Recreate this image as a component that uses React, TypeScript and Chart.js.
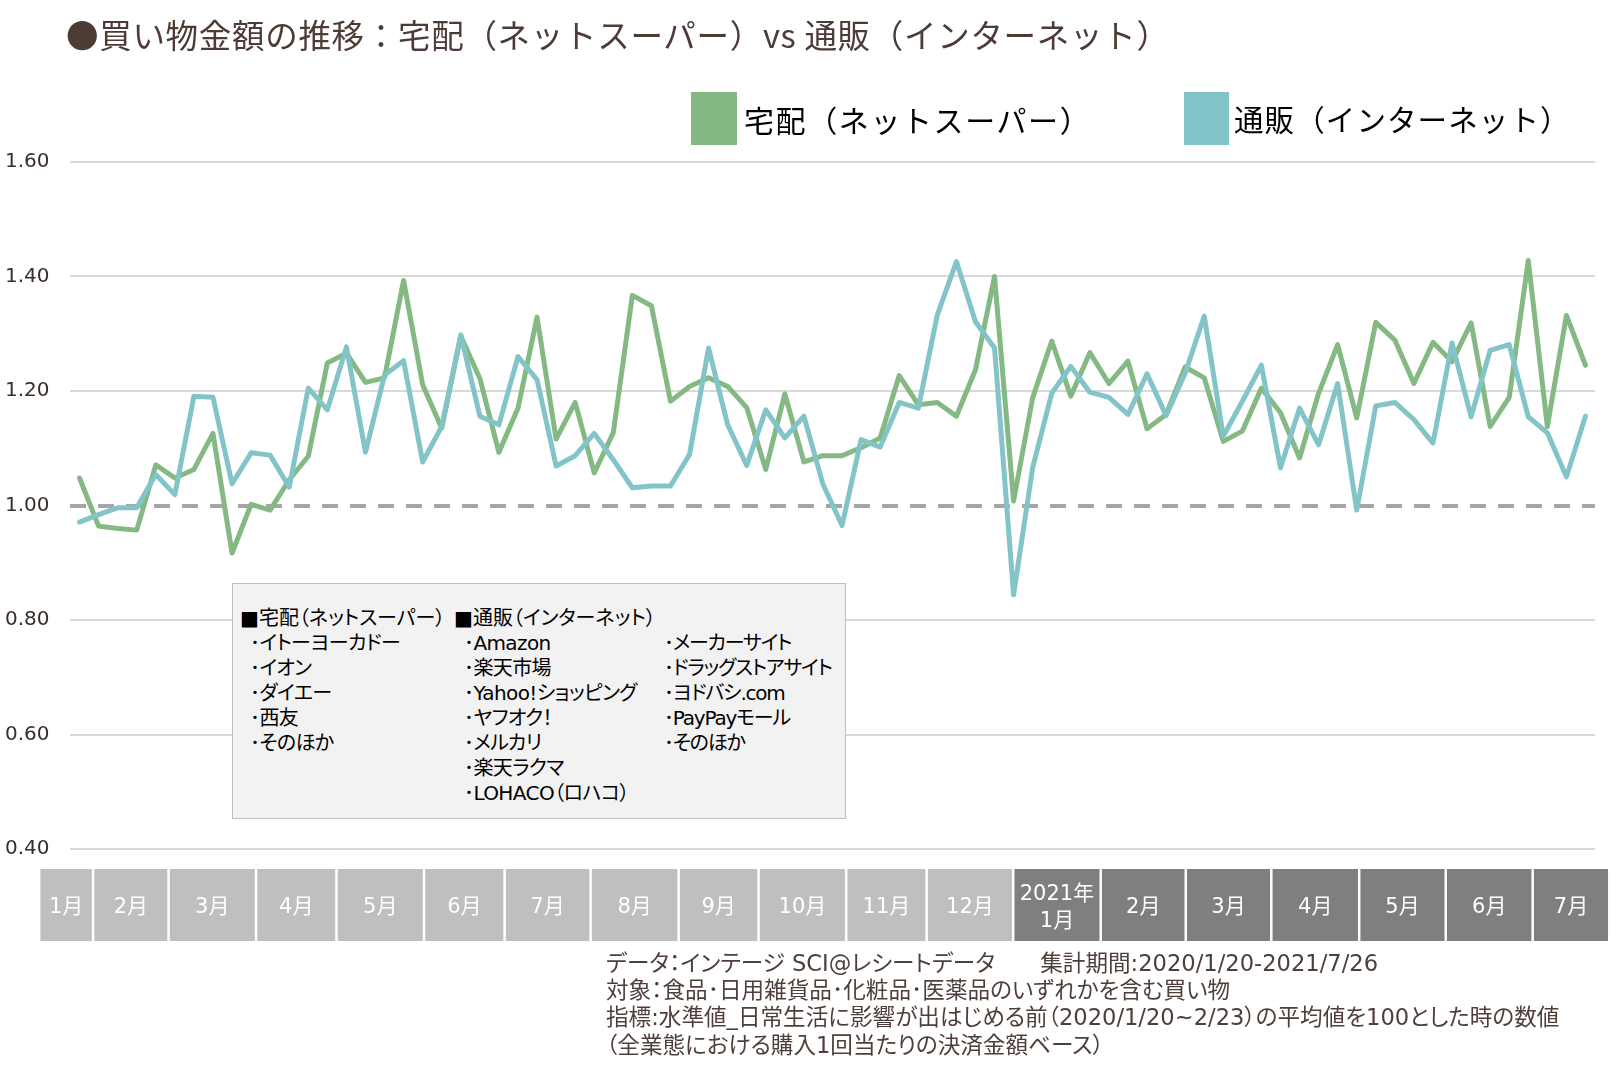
import { useEffect, useRef } from "react";
import { Chart, registerables } from "chart.js";

Chart.register(...registerables);

// Weekly categories (week starting Monday), 2020/1/20 – 2021/7/26
const weekLabels = [
  "2020/1/20", "2020/1/27", "2020/2/3", "2020/2/10", "2020/2/17", "2020/2/24",
  "2020/3/2", "2020/3/9", "2020/3/16", "2020/3/23", "2020/3/30",
  "2020/4/6", "2020/4/13", "2020/4/20", "2020/4/27",
  "2020/5/4", "2020/5/11", "2020/5/18", "2020/5/25",
  "2020/6/1", "2020/6/8", "2020/6/15", "2020/6/22", "2020/6/29",
  "2020/7/6", "2020/7/13", "2020/7/20", "2020/7/27",
  "2020/8/3", "2020/8/10", "2020/8/17", "2020/8/24", "2020/8/31",
  "2020/9/7", "2020/9/14", "2020/9/21", "2020/9/28",
  "2020/10/5", "2020/10/12", "2020/10/19", "2020/10/26",
  "2020/11/2", "2020/11/9", "2020/11/16", "2020/11/23", "2020/11/30",
  "2020/12/7", "2020/12/14", "2020/12/21", "2020/12/28",
  "2021/1/4", "2021/1/11", "2021/1/18", "2021/1/25",
  "2021/2/1", "2021/2/8", "2021/2/15", "2021/2/22",
  "2021/3/1", "2021/3/8", "2021/3/15", "2021/3/22", "2021/3/29",
  "2021/4/5", "2021/4/12", "2021/4/19", "2021/4/26",
  "2021/5/3", "2021/5/10", "2021/5/17", "2021/5/24", "2021/5/31",
  "2021/6/7", "2021/6/14", "2021/6/21", "2021/6/28",
  "2021/7/5", "2021/7/12", "2021/7/19", "2021/7/26",
];

// 宅配（ネットスーパー）
const takuhai = [
  1.048, 0.964, 0.960, 0.957, 1.071, 1.048, 1.063, 1.126, 0.917, 1.002,
  0.992, 1.045, 1.086, 1.249, 1.266, 1.215, 1.223, 1.393, 1.211, 1.135,
  1.296, 1.222, 1.093, 1.170, 1.329, 1.116, 1.180, 1.057, 1.127, 1.367,
  1.349, 1.182, 1.208, 1.223, 1.208, 1.171, 1.063, 1.195, 1.076, 1.087,
  1.087, 1.101, 1.118, 1.227, 1.176, 1.180, 1.156, 1.237, 1.400, 1.008,
  1.188, 1.287, 1.191, 1.267, 1.213, 1.252, 1.134, 1.159, 1.242, 1.223,
  1.112, 1.130, 1.205, 1.162, 1.083, 1.196, 1.281, 1.153, 1.320, 1.289,
  1.213, 1.285, 1.251, 1.319, 1.138, 1.189, 1.428, 1.138, 1.332, 1.245,
];

// 通販（インターネット）
const tsuhan = [
  0.971, 0.984, 0.996, 0.996, 1.054, 1.019, 1.191, 1.189, 1.038, 1.092,
  1.088, 1.032, 1.205, 1.167, 1.277, 1.093, 1.228, 1.253, 1.076, 1.138,
  1.298, 1.156, 1.141, 1.260, 1.220, 1.069, 1.087, 1.126, 1.080, 1.031,
  1.034, 1.034, 1.089, 1.275, 1.141, 1.070, 1.167, 1.118, 1.156, 1.037,
  0.965, 1.115, 1.102, 1.180, 1.170, 1.333, 1.426, 1.321, 1.275, 0.844,
  1.066, 1.196, 1.243, 1.198, 1.189, 1.159, 1.230, 1.157, 1.231, 1.331,
  1.121, 1.182, 1.245, 1.066, 1.170, 1.106, 1.213, 0.992, 1.174, 1.180,
  1.150, 1.109, 1.284, 1.155, 1.271, 1.281, 1.155, 1.127, 1.050, 1.156,
];

const seriesNames = ["宅配（ネットスーパー）", "通販（インターネット）"];
const seriesColors = ["#84b983", "#83c4c9"];

const yMin = 0.4;
const yMax = 1.6;
const yStep = 0.2;
const baseline = 1.0;

// Month band under the plot (edges in week-index units)
const monthLabels = [
  "1月", "2月", "3月", "4月", "5月", "6月", "7月", "8月", "9月", "10月", "11月", "12月",
  "2021年\n1月", "2月", "3月", "4月", "5月", "6月", "7月",
];
const monthEdges = [
  -2.12, 0.71, 4.67, 9.26, 13.48, 18.07, 22.3, 26.81, 31.43, 35.62, 40.22,
  44.44, 48.98, 53.57, 58.03, 62.52, 67.13, 71.67, 76.23, 80.25,
];
const monthYears = [
  2020, 2020, 2020, 2020, 2020, 2020, 2020, 2020, 2020, 2020, 2020, 2020,
  2021, 2021, 2021, 2021, 2021, 2021, 2021,
];

const titleText = "●買い物金額の推移：宅配（ネットスーパー）vs 通販（インターネット）";

const boxHeader1 = "■宅配（ネットスーパー）";
const boxHeader2 = "■通販（インターネット）";
const boxCol1 = ["イトーヨーカドー", "イオン", "ダイエー", "西友", "そのほか"];
const boxCol2 = ["Amazon", "楽天市場", "Yahoo!ショッピング", "ヤフオク！", "メルカリ", "楽天ラクマ", "LOHACO（ロハコ）"];
const boxCol3 = ["メーカーサイト", "ドラッグストアサイト", "ヨドバシ.com", "PayPayモール", "そのほか"];

const notes = [
  "データ：インテージ SCI@レシートデータ　　集計期間:2020/1/20-2021/7/26",
  "対象：食品･日用雑貨品･化粧品･医薬品のいずれかを含む買い物",
  "指標:水準値_日常生活に影響が出はじめる前（2020/1/20~2/23）の平均値を100とした時の数値",
  "（全業態における購入1回当たりの決済金額ベース）",
];

const W = 1616;
const H = 1073;

const cjk = "'Noto Sans CJK JP', sans-serif";
const mixed = "'DejaVu Sans', 'Noto Sans CJK JP', sans-serif";

export default function App() {
  const canvasRef = useRef<HTMLCanvasElement | null>(null);

  useEffect(() => {
    const prevMargin = document.body.style.margin;
    document.body.style.margin = "0";
    const canvas = canvasRef.current;
    if (!canvas) return;

    const refLine = {
      id: "refLine",
      beforeDatasetsDraw(chart: any) {
        const { ctx, chartArea, scales } = chart;
        const py = Math.round(scales.y.getPixelForValue(baseline));
        ctx.save();
        ctx.strokeStyle = "#a6a6a6";
        ctx.lineWidth = 4;
        ctx.setLineDash([16, 12]);
        ctx.beginPath();
        ctx.moveTo(chartArea.left, py);
        ctx.lineTo(chartArea.right, py);
        ctx.stroke();
        ctx.restore();
      },
    };

    const monthBand = {
      id: "monthBand",
      afterDraw(chart: any) {
        const { ctx, chartArea, scales } = chart;
        const xs = scales.x;
        const top = chartArea.bottom + 20;
        const h = 72;
        ctx.save();
        ctx.textAlign = "center";
        ctx.textBaseline = "middle";
        for (let i = 0; i < monthLabels.length; i++) {
          const x0 = xs.getPixelForValue(monthEdges[i]) + 1.25;
          const x1 = xs.getPixelForValue(monthEdges[i + 1]) - 1.25;
          ctx.fillStyle = monthYears[i] === 2020 ? "#bfbfbf" : "#7f7f7f";
          ctx.fillRect(x0, top, x1 - x0, h);
          const lines = monthLabels[i].split("\n");
          const lh = 27;
          const cy = top + h / 2 + 3 - ((lines.length - 1) * lh) / 2;
          ctx.fillStyle = "#ffffff";
          ctx.font = "21px " + mixed;
          lines.forEach((ln, k) => {
            ctx.fillText(ln, (x0 + x1) / 2, cy + k * lh);
          });
        }
        ctx.restore();
      },
    };

    const chart = new Chart(canvas, {
      type: "line",
      data: {
        labels: weekLabels,
        datasets: [
          {
            label: seriesNames[0],
            data: takuhai,
            borderColor: seriesColors[0],
            backgroundColor: seriesColors[0],
            borderWidth: 5,
            pointRadius: 0,
            tension: 0,
            borderJoinStyle: "round",
            borderCapStyle: "round",
            order: 1,
          },
          {
            label: seriesNames[1],
            data: tsuhan,
            borderColor: seriesColors[1],
            backgroundColor: seriesColors[1],
            borderWidth: 5,
            pointRadius: 0,
            tension: 0,
            borderJoinStyle: "round",
            borderCapStyle: "round",
            order: 0,
          },
        ],
      },
      options: {
        responsive: false,
        animation: false,
        layout: { padding: { left: 5, right: 21, top: 162, bottom: 224 } },
        plugins: {
          legend: { display: false },
          tooltip: { enabled: false },
          title: { display: false },
        },
        scales: {
          x: {
            type: "category",
            display: false,
            offset: true,
            grid: { display: false },
          },
          y: {
            min: yMin,
            max: yMax,
            border: { display: false },
            grid: {
              color: (c: any) =>
                c.tick && Math.abs(c.tick.value - baseline) < 1e-6 ? "rgba(0,0,0,0)" : "#d9d9d9",
              lineWidth: 2,
              drawTicks: false,
            },
            ticks: {
              stepSize: yStep,
              crossAlign: "far",
              color: "#3a2e2a",
              font: { family: "'DejaVu Sans'", size: 20 },
              callback: (v: any) => Number(v).toFixed(2),
            },
            afterFit: (s: any) => {
              s.width = 65;
            },
          },
        },
      },
      plugins: [refLine, monthBand],
    } as any);

    return () => {
      chart.destroy();
      document.body.style.margin = prevMargin;
    };
  }, []);

  const rowH = 25.05;

  return (
    <div style={{ position: "relative", width: W, height: H, overflow: "hidden", background: "#fff" }}>
      <canvas ref={canvasRef} width={W} height={H} style={{ position: "absolute", left: 0, top: 0 }} />

      <div
        style={{
          position: "absolute",
          left: 66,
          top: 18,
          fontFamily: cjk,
          fontSize: 32.5,
          lineHeight: 1,
          letterSpacing: "0.7px",
          color: "#4d3b35",
          whiteSpace: "nowrap",
        }}
      >
        {titleText}
      </div>

      {/* Legend */}
      <div style={{ position: "absolute", left: 691, top: 92, width: 46, height: 53, background: seriesColors[0] }} />
      <div
        style={{
          position: "absolute",
          left: 744,
          top: 104,
          fontFamily: cjk,
          fontSize: 30,
          lineHeight: 1,
          letterSpacing: "1.6px",
          color: "#000",
          whiteSpace: "nowrap",
        }}
      >
        {seriesNames[0]}
      </div>
      <div style={{ position: "absolute", left: 1184, top: 92, width: 45, height: 53, background: seriesColors[1] }} />
      <div
        style={{
          position: "absolute",
          left: 1234,
          top: 104,
          fontFamily: cjk,
          fontSize: 29.5,
          lineHeight: 1,
          letterSpacing: "1.1px",
          color: "#000",
          whiteSpace: "nowrap",
        }}
      >
        {seriesNames[1]}
      </div>

      {/* Info box */}
      <div
        style={{
          position: "absolute",
          left: 232,
          top: 583,
          width: 614,
          height: 236,
          boxSizing: "border-box",
          background: "#f2f2f2",
          border: "1px solid #bfbfbf",
          fontFamily: mixed,
          fontSize: 20,
          color: "#000",
          fontFeatureSettings: '"palt"',
          whiteSpace: "nowrap",
        }}
      >
        <div style={{ position: "absolute", left: 7, top: 22, lineHeight: rowH + "px" }}>
          <div>{boxHeader1}</div>
          {boxCol1.map((t) => (
            <div key={t} style={{ paddingLeft: 10, letterSpacing: "-0.6px" }}>{"･" + t}</div>
          ))}
        </div>
        <div style={{ position: "absolute", left: 221, top: 22, lineHeight: rowH + "px" }}>
          <div>{boxHeader2}</div>
          {boxCol2.map((t) => (
            <div key={t} style={{ paddingLeft: 10, letterSpacing: "-0.6px" }}>{"･" + t}</div>
          ))}
        </div>
        <div style={{ position: "absolute", left: 431, top: 22 + rowH, lineHeight: rowH + "px" }}>
          {boxCol3.map((t) => (
            <div key={t} style={{ letterSpacing: "-1.2px" }}>{"･" + t}</div>
          ))}
        </div>
      </div>

      {/* Notes */}
      <div
        style={{
          position: "absolute",
          left: 606,
          top: 950,
          fontFamily: mixed,
          fontSize: 22.6,
          lineHeight: "27.2px",
          color: "#4f3f3a",
          fontFeatureSettings: '"palt"',
          whiteSpace: "nowrap",
        }}
      >
        {notes.map((t) => (
          <div key={t}>{t}</div>
        ))}
      </div>
    </div>
  );
}
